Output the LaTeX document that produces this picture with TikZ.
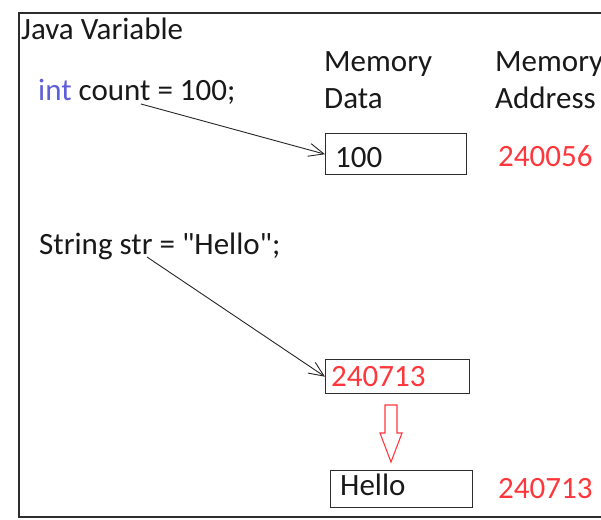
\documentclass[tikz,border=0pt]{standalone}
\usepackage{fontspec}
\setmainfont{Carlito}
\usetikzlibrary{arrows.meta}
\definecolor{txt}{RGB}{25,25,25}
\definecolor{addr}{RGB}{255,55,60}
\definecolor{kw}{RGB}{95,95,215}
\definecolor{edge}{RGB}{45,45,45}
\tikzset{
  lbl/.style={anchor=base west, inner sep=0pt, text=txt,
    font=\fontsize{31}{36}\selectfont},
  red lbl/.style={lbl, text=addr},
  cell/.style={draw=edge, line width=1.4pt, anchor=north west, inner sep=0pt},
  ptr/.style={draw=black!85, line width=0.9pt,
    -{Straight Barb[length=15pt,width=13pt,line width=0.9pt]}},
  deref/.style={draw=addr, line width=1.1pt, fill=white, line join=miter}
}
\begin{document}
\begin{tikzpicture}[x=1pt,y=-1pt]
  \useasboundingbox (0,0) rectangle (601,519);
  \fill[white] (0,0) rectangle (601,519);

  % outer frame, open on the right
  \draw[edge, line width=1.5pt] (601,13) -- (19,13) -- (19,517) -- (601,517);

  % headings
  \node[lbl] (title) at (21,40) {Java Variable};
  \node[lbl] (mem1) at (324,71) {Memory};
  \node[lbl] (dat)  at (324,108) {Data};
  \node[lbl] (mem2) at (495,71) {Memory};
  \node[lbl] (adr)  at (495,108) {Address};

  % primitive variable
  \node[lbl] (intdecl) at (38,100) {\textcolor{kw}{int} count = 100;};
  \node[cell, minimum width=141pt, minimum height=41pt] (b100) at (325,133) {};
  \node[lbl] (v100) at (335,167) {100};
  \node[red lbl] (a1) at (498,166) {240056};

  % reference variable
  \node[lbl] (strdecl) at (39,254) {String str = \textquotedbl Hello\textquotedbl;};
  \node[cell, minimum width=144pt, minimum height=34pt] (bref) at (325,359) {};
  \node[red lbl] (vref) at (331,386) {240713};
  \node[cell, minimum width=142pt, minimum height=37pt] (bobj) at (330,470) {};
  \node[lbl] (vobj) at (340,495) {Hello};
  \node[red lbl] (a2) at (498,498) {240713};

  % pointers from the variables to their memory cells
  \coordinate (p1) at (141,104);
  \coordinate (p2) at (147,257);
  \draw[ptr] (p1) -- (b100.west);
  \draw[ptr] (p2) -- (bref.west);

  % dereference: hollow arrow from the address to the object
  \draw[deref] (385,405) -- (397,405) -- (397,433) -- (402,433) -- (391,462)
    -- (380,433) -- (385,433) -- cycle;
\end{tikzpicture}
\end{document}
